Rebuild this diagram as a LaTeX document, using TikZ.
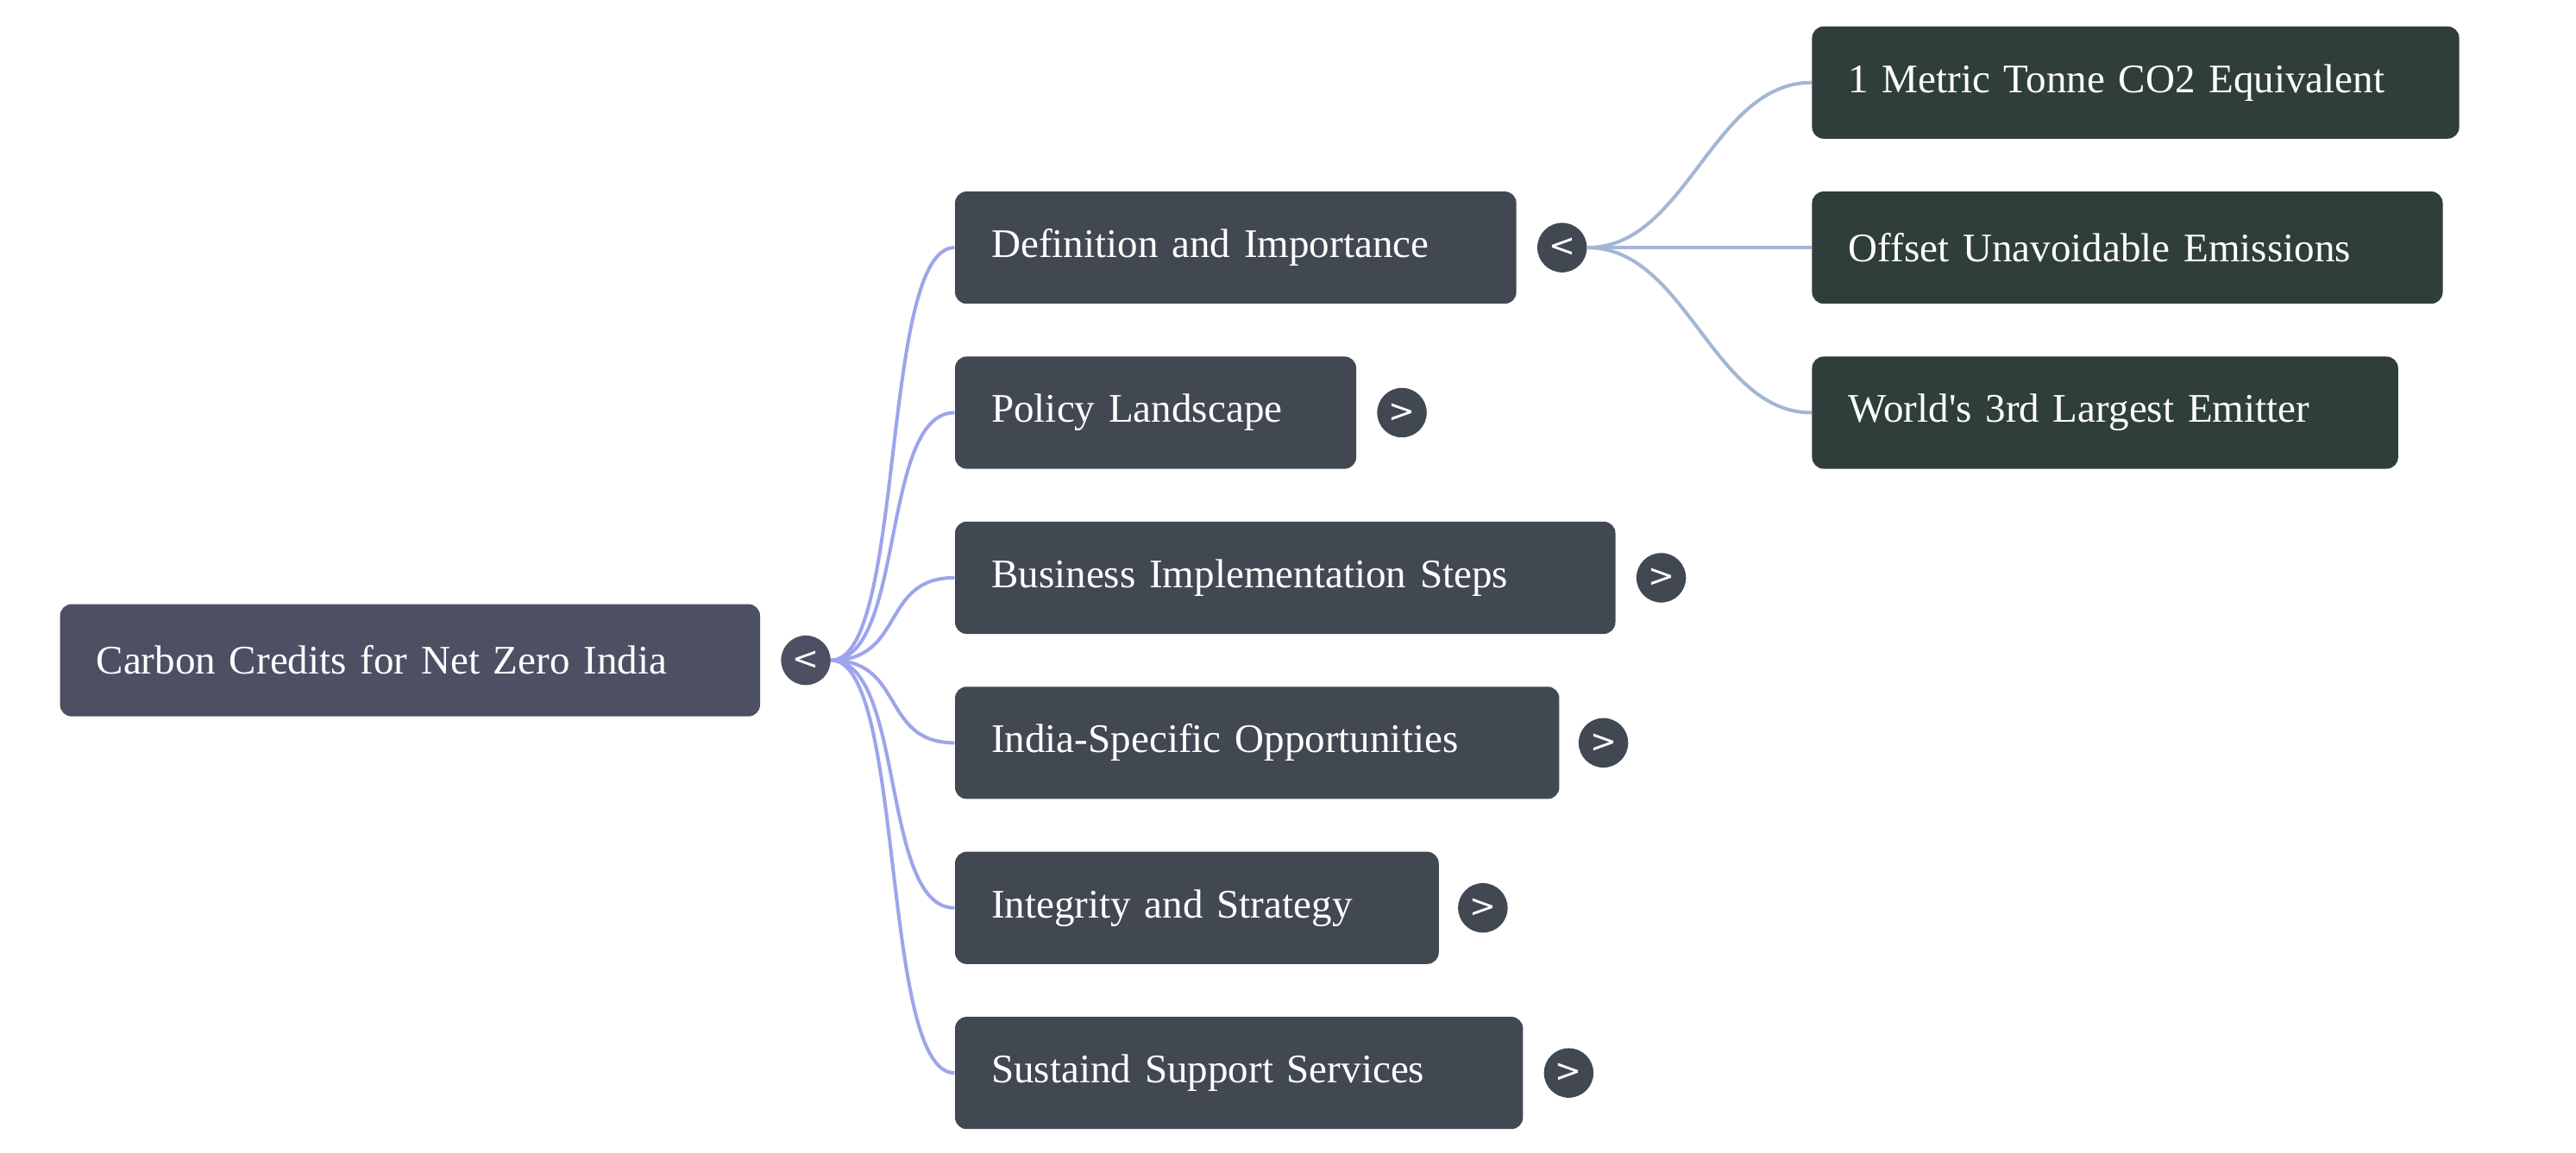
\documentclass[tikz,border=0pt]{standalone}
\usepackage{fontspec}
\setmainfont{Liberation Serif}
\newfontfamily\btnfont{DejaVu Sans}
\usetikzlibrary{positioning}
\definecolor{rootfill}{HTML}{4D4F63}
\definecolor{topicfill}{HTML}{414852}
\definecolor{leaffill}{HTML}{2F3E3A}
\definecolor{edgeA}{HTML}{9DA5EA}
\definecolor{edgeB}{HTML}{A3B6D6}
\begin{document}
\begin{tikzpicture}[x=0.02cm, y=-0.02cm,
    box/.style={rectangle, rounded corners=4pt, anchor=west, minimum height=1.36cm,
      align=left, text=white, font=\fontsize{14}{16}\selectfont, inner xsep=0.44cm},
    root/.style={box, fill=rootfill},
    topic/.style={box, fill=topicfill},
    leaf/.style={box, fill=leaffill},
    btn/.style={circle, fill=topicfill, minimum size=0.6cm, inner sep=0pt, text=white,
      font=\btnfont\fontsize{11}{11}\selectfont},
    linkA/.style={edgeA, line width=1.2pt},
    linkB/.style={edgeB, line width=1.2pt}
]
    \useasboundingbox (0,0) rectangle (1560,698.5);

    % Root
    \node[root, text width=7.6cm] (root) at (36,400) {Carbon Credits for Net Zero India};
    \node[btn, fill=rootfill] (rootbtn) at (488,400) {<};

    % Topics
    \node[topic, text width=5.92cm] (defn) at (578,150) {Definition and Importance};
    \node[topic, text width=3.98cm] (policy) at (578,250) {Policy Landscape};
    \node[topic, text width=7.12cm] (steps) at (578,350) {Business Implementation Steps};
    \node[topic, text width=6.44cm] (india) at (578,450) {India-Specific Opportunities};
    \node[topic, text width=4.98cm] (integ) at (578,550) {Integrity and Strategy};
    \node[topic, text width=6.0cm] (support) at (578,650) {Sustaind Support Services};

    \node[btn] (defnbtn) at (946,150) {<};
    \node[btn] (policybtn) at (849,250) {>};
    \node[btn] (stepsbtn) at (1006,350) {>};
    \node[btn] (indiabtn) at (971,450) {>};
    \node[btn] (integbtn) at (898,550) {>};
    \node[btn] (supportbtn) at (950,650) {>};

    % Leaves
    \node[leaf, text width=6.96cm] (tonne) at (1097,50) {1 Metric Tonne CO2 Equivalent};
    \node[leaf, text width=6.76cm] (offset) at (1097,150) {Offset Unavoidable Emissions};
    \node[leaf, text width=6.22cm] (emitter) at (1097,250) {World\textquotesingle s 3rd Largest Emitter};

    % Links
    \foreach \t in {defn, policy, steps, india, integ, support}
        \draw[linkA] (rootbtn.east) .. controls +(45,0) and +(-45,0) .. (\t.west);
    \foreach \t in {tonne, offset, emitter}
        \draw[linkB] (defnbtn.east) .. controls +(60,0) and +(-60,0) .. (\t.west);
\end{tikzpicture}
\end{document}
